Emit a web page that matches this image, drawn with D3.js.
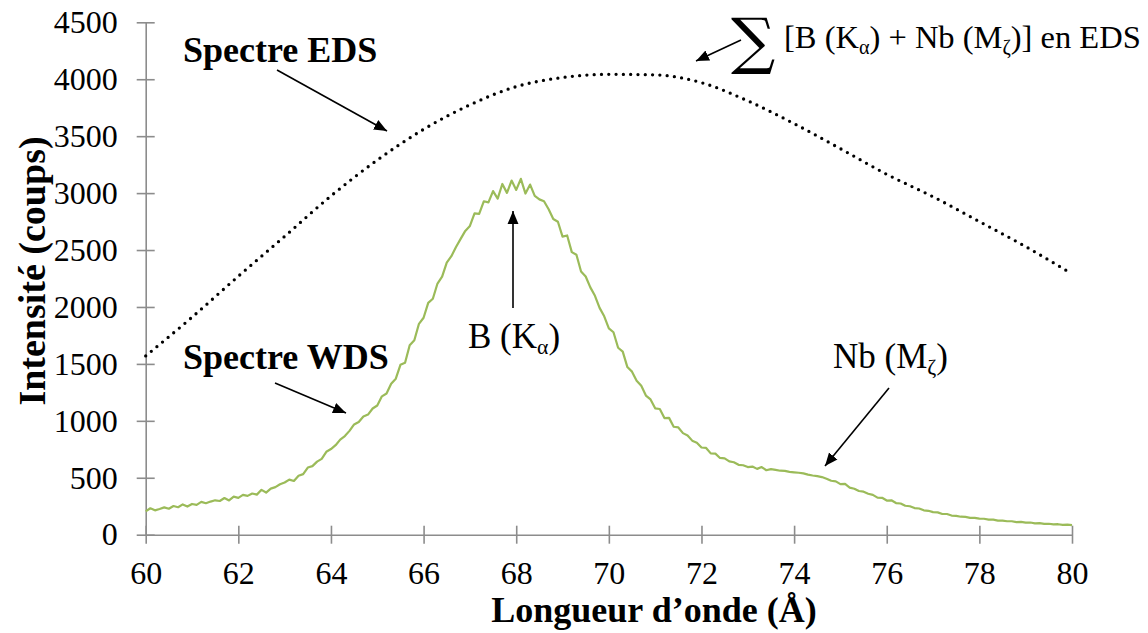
<!DOCTYPE html>
<html><head><meta charset="utf-8">
<script src="https://cdn.jsdelivr.net/npm/d3@7/dist/d3.min.js"></script>
<style>
body{margin:0;background:#fff}svg{display:block}
svg text{font-family:"Liberation Serif","Times New Roman",Times,serif;}
</style>
</head><body>
<svg id="c" width="1148" height="633"></svg>
<script>
// ---- data ----
const xTicks = [60,62,64,66,68,70,72,74,76,78,80];
const yTicks = [0,500,1000,1500,2000,2500,3000,3500,4000,4500];
// EDS (dotted) spectrum, read at integer wavelengths
const edsX = [60,61,62,63,64,65,66,67,68,69,70,71,72,73,74,75,76,77,78,79,80];
const edsY = [1570,1910,2270,2620,2975,3290,3560,3775,3935,4015,4043,4038,3970,3810,3610,3390,3165,2968,2750,2530,2290];
// WDS spectrum, read every 0.1 Å from 60 to 80
const wdsStart = 60, wdsStep = 0.1;
const wdsY = [
205,232,214,226,240, 228,252,241,266,247,
270,262,288,276,291, 302,296,322,301,334,
324,350,341,362,352, 394,370,405,418,443,
458,484,472,518,532, 590,602,642,666,728,
752,786,835,866,912, 968,990,1038,1055,1108,
1135,1215,1240,1326,1370, 1492,1510,1664,1708,1852,
1905,2036,2072,2206,2266, 2390,2446,2526,2598,2668,
2712,2822,2818,2928,2918, 3018,2952,3080,3002,3110,
3028,3125,2996,3075,2975, 2945,2928,2858,2772,2748,
2618,2628,2482,2458,2312, 2268,2172,2098,1992,1918,
1812,1778,1642,1608,1472, 1432,1352,1308,1222,1188,
1110,1104,1024,1026,948, 942,892,872,826,808,
766,762,714,712,674, 670,644,636,614,610,
594,598,578,594,566, 576,570,562,560,552,
548,544,538,528,520, 514,506,492,474,468,
444,446,414,404,384, 378,360,350,326,324,
300,302,278,274,254, 250,234,230,214,210,
198,196,182,182,168, 166,158,156,148,148,
141,140,133,132,124, 124,118,118,110,112,
106,107,100,101,95, 96,91,92,87,88,
84];

// ---- chart ----
const svg = d3.select("#c");
const x = d3.scaleLinear().domain([60,80]).range([145.7,1072]);
const y = d3.scaleLinear().domain([0,4500]).range([534.7,22.3]);
const axisColor = "#8c8c8c";

svg.append("defs").append("marker")
  .attr("id","ah").attr("viewBox","0 0 10 10").attr("refX",10).attr("refY",5)
  .attr("markerWidth",13).attr("markerHeight",13).attr("markerUnits","userSpaceOnUse")
  .attr("orient","auto")
  .append("path").attr("d","M0,0.8 L10,5 L0,9.2 Z").attr("fill","#000");

// Y axis
const gy = svg.append("g").attr("transform",`translate(${x(60)},0)`)
  .call(d3.axisLeft(y).tickValues(yTicks).tickFormat(d3.format("d")).tickSizeInner(9).tickSizeOuter(0));
gy.attr("font-family",null).attr("font-size",null);
gy.select(".domain").attr("stroke",axisColor).attr("stroke-width",1.6);
gy.selectAll(".tick line").attr("x1",-9).attr("x2",9).attr("stroke",axisColor).attr("stroke-width",1.6);
gy.selectAll(".tick text").attr("x",-28).style("font-size","32px").attr("fill","#000");

// X axis
const gx = svg.append("g").attr("transform",`translate(0,${y(0)})`)
  .call(d3.axisBottom(x).tickValues(xTicks).tickFormat(d3.format("d")).tickSizeInner(9).tickSizeOuter(0));
gx.attr("font-family",null).attr("font-size",null);
gx.select(".domain").attr("stroke",axisColor).attr("stroke-width",1.6);
gx.selectAll(".tick line").attr("y1",-9).attr("y2",9).attr("stroke",axisColor).attr("stroke-width",1.6);
gx.selectAll(".tick text").attr("y",49).attr("dy",0).style("font-size","32px").attr("fill","#000");

// WDS line
const wdsData = wdsY.map((v,i)=>({x: wdsStart + i*wdsStep, y: v}));
svg.append("path").datum(wdsData)
  .attr("fill","none").attr("stroke","#9bbb59").attr("stroke-width",2.2).attr("stroke-linejoin","round")
  .attr("d", d3.line().x(d=>x(d.x)).y(d=>y(d.y)));

// EDS dotted line
const edsData = edsX.map((v,i)=>({x:v, y:edsY[i]}));
svg.append("path").datum(edsData)
  .attr("fill","none").attr("stroke","#000").attr("stroke-width",3.3)
  .attr("stroke-linecap","round").attr("stroke-dasharray","0 7.3")
  .attr("d", d3.line().curve(d3.curveMonotoneX).x(d=>x(d.x)).y(d=>y(d.y)));

// Axis titles
svg.append("text").attr("x",654).attr("y",622).attr("text-anchor","middle")
  .style("font-weight","bold").style("font-size","36px")
  .text("Longueur d\u2019onde (Å)");
svg.append("text").attr("transform","translate(45,271) rotate(-90)").attr("text-anchor","middle")
  .style("font-weight","bold").style("font-size","38px")
  .text("Intensité (coups)");

// Annotations: parts = [text, isSubscript]
function label(tx,ty,parts,size,bold){
  const t = svg.append("text").attr("x",tx).attr("y",ty)
    .style("font-size",size+"px").style("font-weight",bold?"bold":"normal").attr("fill","#000");
  let lowered = false;
  parts.forEach(([s,sub])=>{
    const ts = t.append("tspan").text(s);
    if(sub && !lowered){ ts.attr("dy",6).style("font-size",(size*0.62)+"px"); lowered=true; }
    else if(sub){ ts.style("font-size",(size*0.62)+"px"); }
    else if(lowered){ ts.attr("dy",-6); lowered=false; }
  });
  return t;
}
label(183,62,[["Spectre EDS"]],36,true);
label(183,369,[["Spectre WDS"]],36,true);
label(468,348,[["B (K"],["α",1],[")"]],35,false);
label(833,368,[["Nb (M"],["ζ",1],[")"]],35,false);
label(784,48,[["[B (K"],["α",1],[") + Nb (M"],["ζ",1],[")] en EDS"]],32.5,false);
svg.append("text").attr("x",731).attr("y",62).style("font-family","'DejaVu Serif'")
  .style("font-size","62px").text("∑");

// Arrows
const arrows = [
  [277,70,387,131],
  [275,383,346,413],
  [513,308,513,211],
  [889,388,825,466],
  [741,40,696,61]
];
svg.selectAll("line.arr").data(arrows).join("line").attr("class","arr")
  .attr("x1",d=>d[0]).attr("y1",d=>d[1]).attr("x2",d=>d[2]).attr("y2",d=>d[3])
  .attr("stroke","#000").attr("stroke-width",1.6).attr("marker-end","url(#ah)");
</script>
</body></html>
